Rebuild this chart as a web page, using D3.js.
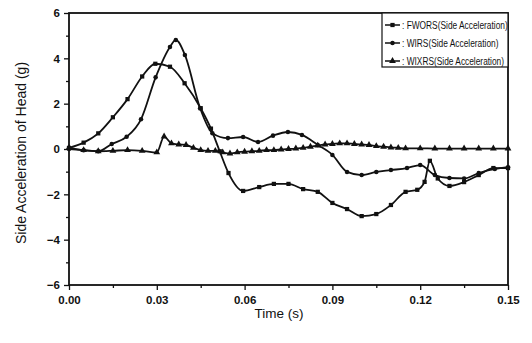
<!DOCTYPE html>
<html>
<head>
<meta charset="utf-8">
<script src="https://cdnjs.cloudflare.com/ajax/libs/d3/7.8.5/d3.min.js"></script>
<style>
  body { margin: 0; background: #fff; }
  text { font-family: "Liberation Sans", Arial, sans-serif; fill: #111; }
</style>
</head>
<body>
<div id="chart"></div>
<script>
// values
const fworsTime = [0, 0.005, 0.01, 0.015, 0.02, 0.025, 0.0295, 0.0345, 0.0395, 0.045, 0.0485, 0.0515, 0.0545, 0.0595,
  0.065, 0.07, 0.075, 0.08, 0.085, 0.09, 0.095, 0.1, 0.105, 0.11, 0.115, 0.119, 0.1215, 0.1233, 0.126, 0.13,
  0.135, 0.14, 0.145, 0.15];
const fworsValues = [0.05, 0.28, 0.69, 1.4, 2.2, 3.2, 3.76, 3.63, 2.9, 1.8, 0.9, -0.1, -1.06, -1.85,
  -1.68, -1.54, -1.54, -1.77, -1.89, -2.38, -2.65, -2.96, -2.87, -2.47, -1.89, -1.8, -1.45, -0.52, -1.3, -1.63,
  -1.46, -1.15, -0.84, -0.84];

const wirsTime = [0, 0.005, 0.01, 0.0146, 0.0197, 0.0246, 0.0296, 0.0345, 0.0365, 0.0396, 0.0448, 0.049, 0.0543,
  0.0595, 0.0646, 0.0697, 0.0748, 0.0796, 0.085, 0.09, 0.095, 0.1, 0.105, 0.11, 0.1155, 0.12, 0.125, 0.13,
  0.135, 0.14, 0.1455, 0.15];
const wirsValues = [0, -0.05, -0.1, 0.22, 0.54, 1.31, 3.16, 4.5, 4.81, 4.15, 1.8, 0.7, 0.48,
  0.53, 0.31, 0.59, 0.75, 0.62, 0.18, -0.26, -1.01, -1.15, -1.01, -0.93, -0.84, -0.71, -1.15, -1.28,
  -1.3, -1.06, -0.88, -0.8];

const wixrsTime = [0, 0.005, 0.01, 0.015, 0.02, 0.025, 0.03, 0.0325, 0.035, 0.0375, 0.04, 0.0425, 0.045, 0.0475,
  0.05, 0.0525, 0.055, 0.0575, 0.06, 0.0625, 0.065, 0.0675, 0.07, 0.0725, 0.075, 0.0775, 0.08, 0.0825, 0.085,
  0.0875, 0.09, 0.0925, 0.095, 0.0975, 0.1, 0.1025, 0.105, 0.1075, 0.11, 0.1125, 0.115, 0.12, 0.125, 0.13,
  0.135, 0.14, 0.145, 0.15];
const wixrsValues = [0.05, -0.05, -0.1, -0.08, -0.05, -0.08, -0.15, 0.55, 0.25, 0.2, 0.18, 0.05, -0.05, -0.08,
  -0.08, -0.15, -0.2, -0.15, -0.12, -0.1, -0.08, -0.05, -0.05, -0.02, 0, 0.02, 0.05, 0.1, 0.15,
  0.2, 0.22, 0.25, 0.25, 0.22, 0.2, 0.18, 0.13, 0.1, 0.07, 0.05, 0.03, 0.03, 0.02, 0.02,
  0.02, 0.02, 0.02, 0.02];

const seriesNames = ["FWORS(Side Acceleration)", "WIRS(Side Acceleration)", "WIXRS(Side Acceleration)"];
const xTicks = [0, 0.03, 0.06, 0.09, 0.12, 0.15];
const xMinorTicks = [0.015, 0.045, 0.075, 0.105, 0.135];
const yTicks = [-6, -4, -2, 0, 2, 4, 6];
const yMinorTicks = [-5, -3, -1, 1, 3, 5];

const width = 532, height = 343;
const margin = { left: 69, right: 24, top: 13, bottom: 58 };

const svg = d3.select('#chart').append('svg')
  .attr('width', width)
  .attr('height', height)
  .style('background', '#fff');

const x = d3.scaleLinear().domain([0, 0.15]).range([margin.left, width - margin.right]);
const y = d3.scaleLinear().domain([-6, 6]).range([height - margin.bottom, margin.top]);

// axes, ticks pointing outward
svg.append('g')
  .attr('transform', `translate(0,${y(-6)})`)
  .call(d3.axisBottom(x).tickValues(xTicks).tickFormat(d3.format('.2f')).tickSize(5).tickPadding(6));
svg.append('g')
  .attr('transform', `translate(0,${y(-6)})`)
  .call(d3.axisBottom(x).tickValues(xMinorTicks).tickFormat('').tickSize(3));

svg.append('g')
  .attr('transform', `translate(${x(0)},0)`)
  .call(d3.axisLeft(y).tickValues(yTicks).tickFormat(d3.format('d')).tickSize(5).tickPadding(4));
svg.append('g')
  .attr('transform', `translate(${x(0)},0)`)
  .call(d3.axisLeft(y).tickValues(yMinorTicks).tickFormat('').tickSize(3));

svg.selectAll('.domain').remove();
svg.selectAll('.tick line').attr('stroke', '#111').attr('stroke-width', 1.3);
svg.selectAll('.tick text')
  .style('font-size', '11.5px')
  .style('font-weight', 'bold')
  .attr('fill', '#111');

// plot frame
svg.append('rect')
  .attr('x', x(0)).attr('y', y(6))
  .attr('width', x(0.15) - x(0)).attr('height', y(-6) - y(6))
  .attr('fill', 'none')
  .attr('stroke', '#111')
  .attr('stroke-width', 1.8);

// axis titles
svg.append('text')
  .attr('x', 279).attr('y', 318)
  .attr('text-anchor', 'middle')
  .style('font-size', '13.5px')
  .text('Time (s)');

svg.append('text')
  .attr('transform', `translate(26,${(y(6) + y(-6)) / 2 + 4}) rotate(-90)`)
  .attr('text-anchor', 'middle')
  .style('font-size', '14px')
  .text('Side Acceleration of Head (g)');

const series = [
  { name: seriesNames[0], t: fworsTime, v: fworsValues, symbol: d3.symbolSquare, size: 18 },
  { name: seriesNames[1], t: wirsTime, v: wirsValues, symbol: d3.symbolCircle, size: 16 },
  { name: seriesNames[2], t: wixrsTime, v: wixrsValues, symbol: d3.symbolTriangle, size: 20 }
];

const line = d3.line()
  .x(d => x(d[0]))
  .y(d => y(d[1]))
  .curve(d3.curveMonotoneX);

const plot = svg.append('g');

series.forEach(s => {
  const pts = s.t.map((t, i) => [t, s.v[i]]);
  plot.append('path')
    .datum(pts)
    .attr('d', line)
    .attr('fill', 'none')
    .attr('stroke', '#111')
    .attr('stroke-width', 1.8);

  plot.selectAll(null)
    .data(pts)
    .enter()
    .append('path')
    .attr('transform', d => `translate(${x(d[0])},${y(d[1])})`)
    .attr('d', d3.symbol().type(s.symbol).size(s.size))
    .attr('fill', '#111');
});

// legend
const legend = svg.append('g');
legend.append('rect')
  .attr('x', 382).attr('y', y(6))
  .attr('width', x(0.15) - 382).attr('height', 54)
  .attr('fill', '#fff')
  .attr('stroke', '#111')
  .attr('stroke-width', 1.2);

series.forEach((s, i) => {
  const ly = 25 + i * 18;
  legend.append('line')
    .attr('x1', 385).attr('x2', 400)
    .attr('y1', ly).attr('y2', ly)
    .attr('stroke', '#111').attr('stroke-width', 1.5);
  legend.append('path')
    .attr('transform', `translate(392.5,${ly})`)
    .attr('d', d3.symbol().type(s.symbol).size(s.size))
    .attr('fill', '#111');
  // narrow face, as in the scan
  legend.append('text')
    .attr('transform', `translate(402,${ly + 4}) scale(0.76,1)`)
    .style('font-size', '11px')
    .text(': ' + s.name);
});
</script>
</body>
</html>
